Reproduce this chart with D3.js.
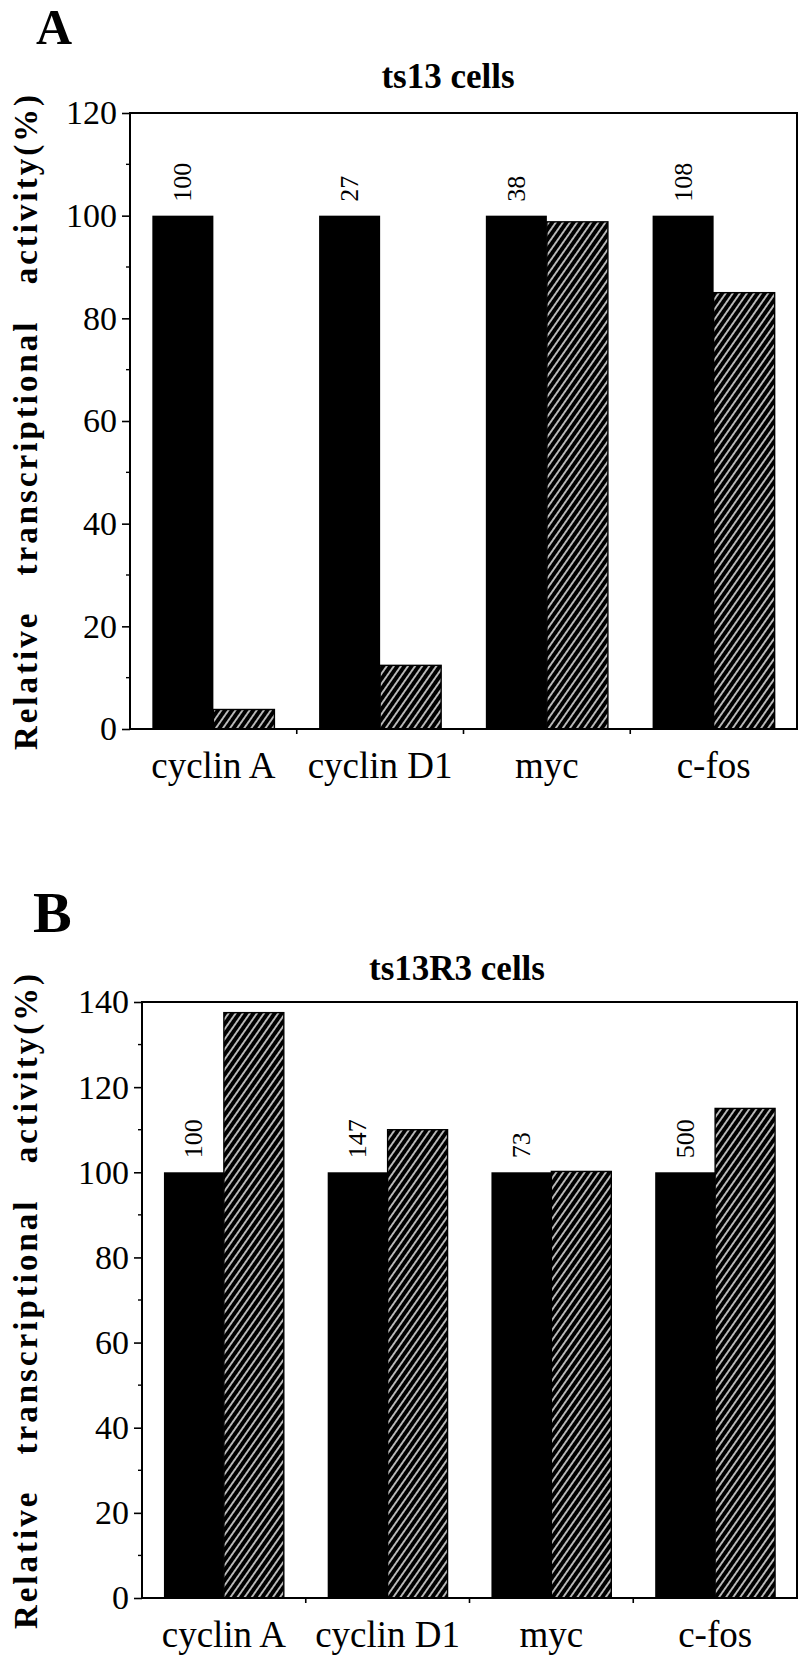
<!DOCTYPE html>
<html>
<head>
<meta charset="utf-8">
<script src="https://cdn.jsdelivr.net/npm/d3@7"></script>
<style>
  body { margin: 0; background: #fff; }
  svg { display: block; }
</style>
</head>
<body>
<script>
// values
const categories = ["cyclin A", "cyclin D1", "myc", "c-fos"];

const ts13Black = [100, 100, 100, 100];
const ts13Hatched = [3.8, 12.4, 98.8, 85];
const ts13Notes = ["100", "27", "38", "108"];
const ts13Ticks = [0, 20, 40, 60, 80, 100, 120];

const ts13R3Black = [100, 100, 100, 100];
const ts13R3Hatched = [137.5, 110, 100.2, 115];
const ts13R3Notes = ["100", "147", "73", "500"];
const ts13R3Ticks = [0, 20, 40, 60, 80, 100, 120, 140];

const width = 800;
const height = 1655;
const serif = "Liberation Serif, Times New Roman, serif";

const svg = d3
  .create("svg")
  .attr("width", width)
  .attr("height", height)
  .attr("viewBox", [0, 0, width, height]);

const defs = svg.append("defs");
const pat = defs
  .append("pattern")
  .attr("id", "hatch")
  .attr("patternUnits", "userSpaceOnUse")
  .attr("width", 5.8)
  .attr("height", 5.8)
  .attr("patternTransform", "rotate(35)");
pat.append("rect").attr("width", 5.8).attr("height", 5.8).attr("fill", "#000");
pat
  .append("line")
  .attr("x1", 2.9)
  .attr("x2", 2.9)
  .attr("y1", 0)
  .attr("y2", 5.8)
  .attr("stroke", "#fff")
  .attr("stroke-width", 1.4);

function panel(opt) {
  const { letter, letterX, letterY, letterSize, title, titleX, titleY,
          left, right, top, bottom, maxY, ticks, black, hatched, notes } = opt;

  const g = svg.append("g");

  const x = d3.scaleBand().domain(categories).range([left, right]).padding(0);
  const y = d3.scaleLinear().domain([0, maxY]).range([bottom, top]);
  const bw = x.bandwidth();
  const barW = bw * 0.366;

  g.append("text")
    .attr("x", letterX)
    .attr("y", letterY)
    .attr("font-family", serif)
    .attr("font-weight", "bold")
    .attr("font-size", letterSize)
    .text(letter);

  g.append("text")
    .attr("x", titleX)
    .attr("y", titleY)
    .attr("text-anchor", "middle")
    .attr("font-family", serif)
    .attr("font-weight", "bold")
    .attr("font-size", 35)
    .text(title);

  // bars
  g.selectAll(".black")
    .data(categories)
    .join("rect")
    .attr("x", (d) => x(d) + bw / 2 - barW)
    .attr("y", (d, i) => y(black[i]))
    .attr("width", barW)
    .attr("height", (d, i) => y(0) - y(black[i]))
    .attr("fill", "#000");

  g.selectAll(".hatched")
    .data(categories)
    .join("rect")
    .attr("x", (d) => x(d) + bw / 2)
    .attr("y", (d, i) => y(hatched[i]))
    .attr("width", barW)
    .attr("height", (d, i) => y(0) - y(hatched[i]))
    .attr("fill", "url(#hatch)")
    .attr("stroke", "#000")
    .attr("stroke-width", 1.4);

  // rotated numbers above the black bars
  g.selectAll(".note")
    .data(categories)
    .join("text")
    .attr("transform", (d, i) =>
      `translate(${x(d) + bw / 2 - barW / 2},${y(black[i]) - 14}) rotate(-90)`)
    .attr("dominant-baseline", "central")
    .attr("font-family", serif)
    .attr("font-size", 26)
    .text((d, i) => notes[i]);

  // frame
  g.append("rect")
    .attr("x", left)
    .attr("y", top)
    .attr("width", right - left)
    .attr("height", bottom - top)
    .attr("fill", "none")
    .attr("stroke", "#000")
    .attr("stroke-width", 2);

  // y axis
  const minor = d3.range(10, maxY, 20);
  const yAxis = g.append("g").attr("transform", `translate(${left},0)`);
  yAxis
    .call(d3.axisLeft(y).tickValues(ticks).tickSize(8).tickPadding(5))
    .call((s) => s.select(".domain").remove())
    .call((s) => s.selectAll(".tick line").attr("stroke-width", 1.6))
    .call((s) =>
      s.selectAll(".tick text")
        .attr("font-family", serif)
        .attr("font-size", 34)
        .attr("fill", "#000"));
  yAxis
    .selectAll(".minor")
    .data(minor)
    .join("line")
    .attr("x1", -4)
    .attr("x2", 0)
    .attr("y1", (d) => y(d))
    .attr("y2", (d) => y(d))
    .attr("stroke", "#000")
    .attr("stroke-width", 1.4);

  // x axis: ticks on category boundaries, labels centred
  const bounds = categories.slice(1).map((c) => x(c));
  g.selectAll(".xtick")
    .data(bounds)
    .join("line")
    .attr("x1", (d) => d)
    .attr("x2", (d) => d)
    .attr("y1", bottom)
    .attr("y2", bottom + 5)
    .attr("stroke", "#000")
    .attr("stroke-width", 1.6);

  g.selectAll(".xlabel")
    .data(categories)
    .join("text")
    .attr("x", (d) => x(d) + bw / 2)
    .attr("y", bottom + 49)
    .attr("text-anchor", "middle")
    .attr("font-family", serif)
    .attr("font-size", 37)
    .text((d) => d);

  // y title
  g.append("text")
    .attr("transform", `translate(37,${(top + bottom) / 2}) rotate(-90)`)
    .attr("text-anchor", "middle")
    .attr("font-family", serif)
    .attr("font-weight", "bold")
    .attr("font-size", 33)
    .attr("letter-spacing", 3)
    .attr("word-spacing", 24)
    .text("Relative transcriptional activity(%)");
}

panel({
  letter: "A", letterX: 36, letterY: 44, letterSize: 50,
  title: "ts13 cells", titleX: 448, titleY: 88,
  left: 130, right: 797, top: 113, bottom: 729, maxY: 120,
  ticks: ts13Ticks, black: ts13Black, hatched: ts13Hatched, notes: ts13Notes
});

panel({
  letter: "B", letterX: 33, letterY: 932, letterSize: 58,
  title: "ts13R3 cells", titleX: 457, titleY: 980,
  left: 142, right: 797, top: 1002, bottom: 1598, maxY: 140,
  ticks: ts13R3Ticks, black: ts13R3Black, hatched: ts13R3Hatched, notes: ts13R3Notes
});

document.body.appendChild(svg.node());
</script>
</body>
</html>
